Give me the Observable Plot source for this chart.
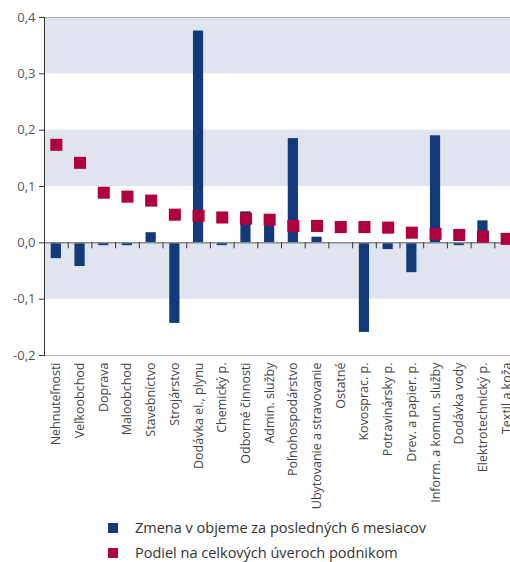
<!DOCTYPE html>
<html>
<head>
<meta charset="utf-8">
<script src="https://cdn.jsdelivr.net/npm/d3@7"></script>
<script src="https://cdn.jsdelivr.net/npm/@observablehq/plot@0.6"></script>
<style>
  body { margin: 0; background: #fff; font-family: "Open Sans", sans-serif; }
  .legend { padding: 5px 0 0 108px; }
  .item { height: 25px; display: flex; align-items: center; font-size: 14.5px; color: #333; }
  .sw { width: 10px; height: 10px; margin-right: 17px; flex: none; }
</style>
</head>
<body>
<div id="chart"></div>
<div class="legend" id="legend"></div>
<script>
// Sectors, ordered by their share of total corporate loans
const sectors = [
  "Nehnuteľnosti", "Veľkoobchod", "Doprava", "Maloobchod", "Stavebníctvo",
  "Strojárstvo", "Dodávka el., plynu", "Chemický p.", "Odborné činnosti", "Admin. služby",
  "Poľnohospodárstvo", "Ubytovanie a stravovanie", "Ostatné", "Kovosprac. p.", "Potravinársky p.",
  "Drev. a papier. p.", "Inform. a komun. služby", "Dodávka vody", "Elektrotechnický p.", "Textil a koža"
];

// Change in volume over the last 6 months
const volumeChange = [
  -0.028, -0.042, -0.005, -0.005, 0.018,
  -0.143, 0.376, -0.005, 0.055, 0.035,
  0.185, 0.010, 0.000, -0.159, -0.012,
  -0.053, 0.190, -0.005, 0.039, 0.000
];

// Share of total loans to enterprises
const loanShare = [
  0.174, 0.142, 0.089, 0.082, 0.075,
  0.050, 0.048, 0.045, 0.043, 0.041,
  0.030, 0.030, 0.028, 0.028, 0.027,
  0.018, 0.016, 0.014, 0.011, 0.007
];

const yTicks = [-0.2, -0.1, 0, 0.1, 0.2, 0.3, 0.4];
const shadedBands = [[0.3, 0.4], [0.1, 0.2], [-0.1, 0]];

const seriesNames = [
  "Zmena v objeme za posledných 6 mesiacov",
  "Podiel na celkových úveroch podnikom"
];
const seriesColors = ["#12397a", "#b0003f"];

const rows = sectors.map((s, i) => ({sector: s, change: volumeChange[i], share: loanShare[i]}));
const fmt = d => d.toFixed(1).replace(".", ",");

const W = 510, H = 510, ML = 44, MR = -8;
const step = (W - MR - ML) / sectors.length;

const chart = Plot.plot({
  width: W,
  height: H,
  marginTop: 17,
  marginBottom: 155,
  marginLeft: ML,
  marginRight: MR,
  style: {fontFamily: "Open Sans, sans-serif", fontSize: "12.5px", background: "#fff"},
  x: {domain: sectors, paddingInner: 0.57, paddingOuter: 0.285, round: false, axis: null},
  y: {domain: [-0.2, 0.4], axis: null},
  marks: [
    Plot.barY(shadedBands, {y1: d => d[0], y2: d => d[1], fill: "#dfe4ee"}),
    Plot.ruleY([0.4, -0.2], {stroke: "#b4b4b4", strokeWidth: 1.2}),
    Plot.barY(rows, {x: "sector", y: "change", fill: seriesColors[0]}),
    Plot.ruleY([0], {stroke: "#8a8a8a", strokeWidth: 1.5}),
    Plot.ruleX(sectors.slice(1), {x: d => d, y1: 0, y2: 0, dx: -step / 2, insetBottom: -6, stroke: "#333"}),
    Plot.dot(rows, {x: "sector", y: "share", symbol: "square", r: 6.8, fill: seriesColors[1], stroke: "none"}),
    Plot.axisY({ticks: yTicks, tickFormat: fmt, tickSize: 5, stroke: "#333", fill: "#555", fontSize: 13, label: null}),
    Plot.frame({anchor: "left", stroke: "#333"}),
    Plot.axisX({tickRotate: -90, tickSize: 0, tickPadding: 7, fill: "#444", label: null})
  ]
});
document.getElementById("chart").append(chart);

const legend = document.getElementById("legend");
seriesNames.forEach((name, i) => {
  const item = document.createElement("div");
  item.className = "item";
  const sw = document.createElement("span");
  sw.className = "sw";
  sw.style.background = seriesColors[i];
  const label = document.createElement("span");
  label.textContent = name;
  item.append(sw, label);
  legend.append(item);
});
</script>
</body>
</html>
